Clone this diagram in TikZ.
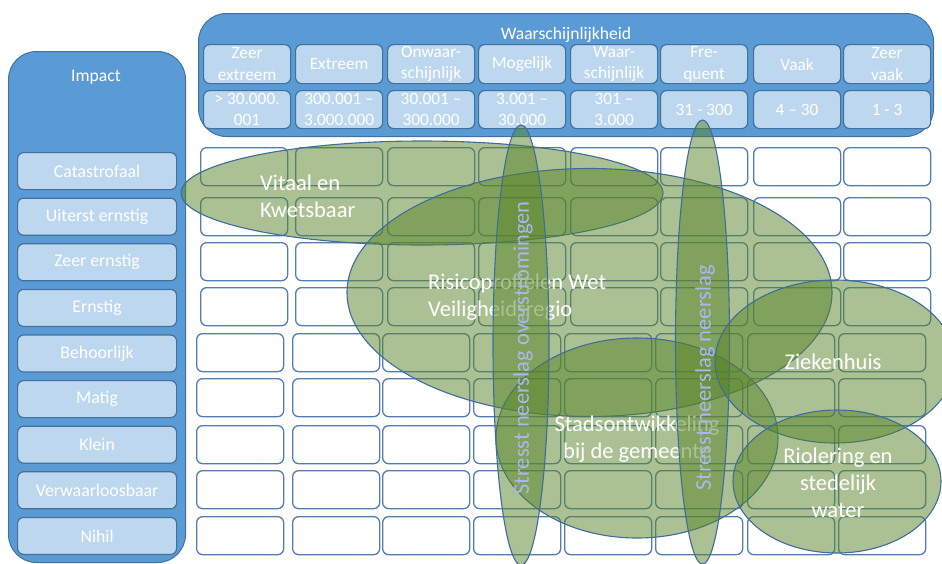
\documentclass[tikz,border=0pt]{standalone}
\usepackage{fontspec}
\setmainfont{Carlito}
\usetikzlibrary{shapes.geometric}
\definecolor{panelblue}{HTML}{5B9BD5}
\definecolor{cellblue}{HTML}{BDD7EE}
\definecolor{edgeblue}{HTML}{41719C}
\definecolor{gridblue}{RGB}{84,125,175}
\definecolor{zonegreen}{RGB}{88,132,40}
\definecolor{zoneedge}{RGB}{62,108,158}
\definecolor{stresstext}{RGB}{170,184,240}

\begin{document}
\begin{tikzpicture}[x=1pt,y=-1pt,
  panel/.style={draw=edgeblue, line width=1pt, fill=panelblue, rounded corners=28pt,
    inner sep=0pt, anchor=north west},
  paneltitle/.style={text=white, inner sep=0pt, font=\fontsize{17.6}{21}\selectfont},
  hcell/.style={draw=edgeblue, line width=1.2pt, fill=cellblue, rounded corners=6pt,
    minimum width=87pt, inner sep=0pt, anchor=north west, text=white,
    align=center, font=\fontsize{17.3}{21.5}\selectfont},
  gcell/.style={draw=gridblue, line width=1.3pt, fill=white, rounded corners=6pt,
    minimum width=87pt, minimum height=38pt, inner sep=0pt, anchor=north west},
  zone/.style={ellipse, draw=zoneedge, line width=1.1pt, fill=zonegreen,
    fill opacity=0.5, inner sep=0pt},
  zonetext/.style={text=white, inner sep=0pt, font=\fontsize{22.5}{27}\selectfont},
  stresslabel/.style={text=stresstext, rotate=90, inner sep=0pt,
    font=\fontsize{22.5}{27}\selectfont},
]
\useasboundingbox (0,0) rectangle (942,563);
\fill[white] (0,0) rectangle (942,563);
\clip (0,0) rectangle (942,563);

% probability header
\node[panel, minimum width=735pt, minimum height=123pt] (kans) at (198,13) {};
\node[paneltitle] (kans-t) at (566,35) {Waarschijnlijkheid};
\foreach \x/\top/\bot [count=\c] in {
    203/{Zeer\\extreem}/{> 30.000.\\001},
    295/{Extreem}/{300.001 –\\3.000.000},
    387/{Onwaar-\\schijnlijk}/{30.001 –\\300.000},
    478/{Mogelijk}/{3.001 –\\30.000},
    570/{Waar-\\schijnlijk}/{301 –\\3.000},
    660/{Fre-\\quent}/{31 - 300},
    753/{Vaak}/{4 – 30},
    843/{Zeer\\vaak}/{1 - 3}} {
  \node[hcell, minimum height=39pt] (h-1-\c) at (\x,44) {\top};
  \node[hcell, minimum height=38pt] (h-2-\c) at (\x,90) {\bot};
}

% impact column
\node[panel, minimum width=177pt, minimum height=511pt] (impact) at (8,51) {};
\node[paneltitle] (impact-t) at (96,77) {Impact};
\foreach \t [count=\r] in {Catastrofaal, Uiterst ernstig, Zeer ernstig, Ernstig,
    Behoorlijk, Matig, Klein, Verwaarloosbaar, Nihil} {
  \node[hcell, minimum width=159pt, minimum height=37pt,
    font=\fontsize{17.8}{21.5}\selectfont] (i-\r) at (17,{152+45.6*(\r-1)}) {\t};
}

% risk matrix
\foreach \y [count=\r] in {147,197,242,287}
  \foreach \x [count=\c] in {200,295,387,478,570,660,753,843}
    \node[gcell] (g-\r-\c) at (\x,\y) {};
\foreach \y [count=\r from 5] in {333,378,425,470,516}
  \foreach \x [count=\c] in {196,292,382,473,564,655,747,838}
    \node[gcell] (g-\r-\c) at (\x,\y) {};

% risk zones, each followed by its label
\node[zone, minimum width=482pt, minimum height=104pt] (vitaal) at (422,193) {};
\node[zonetext, anchor=west, align=left] (vitaal-t) at (260,196) {Vitaal en\\Kwetsbaar};

\node[zone, minimum width=485pt, minimum height=248pt] (risico) at (589.5,292.5) {};
\node[zonetext, anchor=west, align=left] (risico-t) at (428,297) {Risicoprofielen Wet\\Veiligheidsregio};

\node[zone, minimum width=282pt, minimum height=200pt] (stad) at (637,438) {};
\node[zonetext, align=center] (stad-t) at (637,439) {Stadsontwikkeling\\bij de gemeente};

\node[zone, minimum width=56pt, minimum height=440pt] (stress1) at (521,345) {};
\node[stresslabel] (stress1-t) at (523,348) {Stresst neerslag overstromingen};

\node[zone, minimum width=54pt, minimum height=444pt] (stress2) at (702.5,342) {};
\node[stresslabel] (stress2-t) at (705,378) {Stresst neerslag neerslag};

\node[zone, minimum width=240pt, minimum height=163pt] (zieken) at (835,361.5) {};
\node[zonetext] (zieken-t) at (833,362) {Ziekenhuis};

\node[zone, minimum width=208pt, minimum height=143pt] (riool) at (837,481.5) {};
\node[zonetext, align=center] (riool-t) at (838,482.5) {Riolering en\\stedelijk\\water};
\end{tikzpicture}
\end{document}
